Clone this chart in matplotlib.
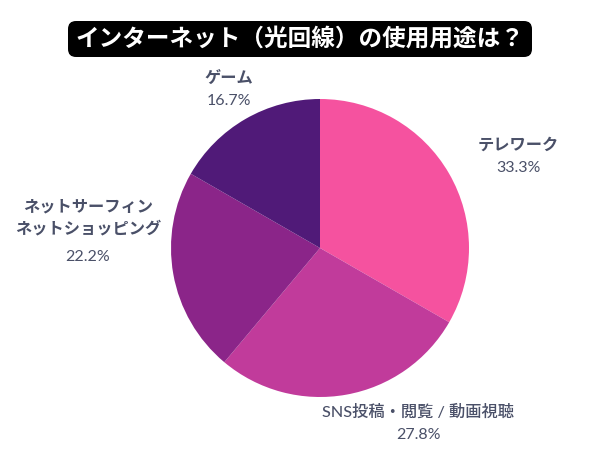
import matplotlib
matplotlib.use("Agg")
import matplotlib.pyplot as plt
from matplotlib.patches import FancyBboxPatch

plt.rcParams['font.family'] = ['Noto Sans CJK JP', 'DejaVu Sans']

title = "インターネット（光回線）の使用用途は？"
categories = ["テレワーク", "SNS投稿・閲覧 / 動画視聴", "ネットサーフィン\nネットショッピング", "ゲーム"]
values = [33.3, 27.8, 22.2, 16.7]
colors = ["#F5529F", "#C13B9B", "#8B2589", "#501A78"]

fig = plt.figure(figsize=(6, 4.5), dpi=100)
ax = fig.add_axes([0, 0, 1, 1])

cx, cy, r = 320, 450 - 248, 149
ax.pie(values, colors=colors, startangle=90, counterclock=False,
       center=(cx, cy), radius=r, frame=True,
       wedgeprops=dict(linewidth=0))
ax.set_xlim(0, 600)
ax.set_ylim(0, 450)
ax.set_aspect('equal')
ax.axis('off')

label_pos = [(518, 450 - 145), (418, 450 - 412), (88, 450 - 218), (229, 450 - 78)]
weights = ['bold', 'medium', 'bold', 'bold']
txt_color = "#4A5068"
for (x, y), cat, v, w in zip(label_pos, categories, values, weights):
    nlines = cat.count("\n") + 1
    ax.text(x, y, cat, ha='center', va='center',
            fontsize=11.7, fontweight=w, family=['Lato', 'Noto Sans CJK JP'],
            color=txt_color, linespacing=1.5)
    py = y - 23 if nlines == 1 else y - 39
    ax.text(x, py, f"{v}%", ha='center', va='center', fontsize=11.5,
            family=['Lato', 'DejaVu Sans'], color=txt_color)

box = FancyBboxPatch((68, 450 - 57), 464, 36, boxstyle="round,pad=0,rounding_size=8",
                     facecolor='black', edgecolor='none')
ax.add_patch(box)
ax.text(300, 450 - 39, title, ha='center', va='center', fontsize=17,
        fontweight='bold', color='white')

fig.savefig("out.png", dpi=100)
